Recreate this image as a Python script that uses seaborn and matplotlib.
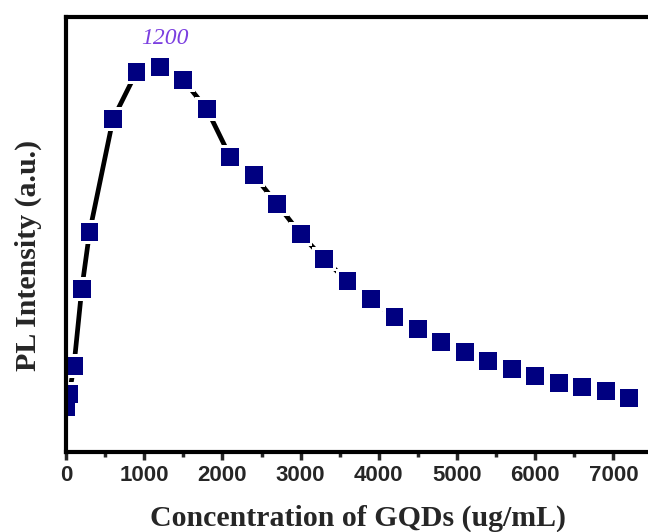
import numpy as np
import pandas as pd
import matplotlib
matplotlib.use("Agg")
import matplotlib.pyplot as plt
from matplotlib.ticker import MultipleLocator
import seaborn as sns

# concentration of GQDs (ug/mL) and PL intensity (arbitrary units)
conc = [0, 40, 100, 200, 300, 600, 900, 1200, 1500, 1800, 2100, 2400, 2700,
        3000, 3300, 3600, 3900, 4200, 4500, 4800, 5100, 5400, 5700, 6000,
        6300, 6600, 6900, 7200]
intensity = [45, 58, 86, 163, 220, 333, 380, 385, 372, 343, 295, 277, 248,
             218, 193, 171, 153, 135, 123, 110, 100, 91, 83, 76, 69, 65, 61, 54]
peak_label = "1200"

df = pd.DataFrame({"conc": conc, "intensity": intensity})

sns.set_style("ticks")
fig = plt.figure(figsize=(6.48, 5.32), dpi=100)
ax = fig.add_axes([0.102, 0.150, 0.917, 0.818])

# black connecting line
sns.lineplot(data=df, x="conc", y="intensity", color="black", lw=3.4,
             sort=False, ax=ax, zorder=2)
# white halo so the line stops short of each square
sns.scatterplot(data=df, x="conc", y="intensity", marker="s", s=285,
                color="white", edgecolor="none", ax=ax, zorder=3)
sns.scatterplot(data=df, x="conc", y="intensity", marker="s", s=165,
                color="#000080", edgecolor="none", ax=ax, zorder=4)

ax.text(1270, 414, peak_label, color="#7B3FE0", fontsize=17, style="italic",
        family="Liberation Serif", ha="center", va="center")

ax.set_xlim(0, 7600)
ax.set_ylim(0, 435)
ax.xaxis.set_major_locator(MultipleLocator(1000))
ax.xaxis.set_minor_locator(MultipleLocator(500))
ax.set_yticks([])
ax.tick_params(axis="x", which="major", direction="out", length=6, width=2.5,
               labelsize=16, pad=3)
ax.tick_params(axis="x", which="minor", direction="out", length=3.5, width=2.5)
for lab in ax.get_xticklabels():
    lab.set_fontweight("bold")
    lab.set_family("Liberation Sans")

for sp in ax.spines.values():
    sp.set_linewidth(3)
    sp.set_color("black")
    sp.set_zorder(5)

ax.set_xlabel("Concentration of GQDs (ug/mL)", fontsize=21.5, fontweight="bold",
              family="Liberation Serif")
ax.set_ylabel("PL Intensity (a.u.)", fontsize=21.5, fontweight="bold",
              family="Liberation Serif")
ax.xaxis.set_label_coords(0.492, -0.152)
ax.yaxis.set_label_coords(-0.064, 0.453)
ax.xaxis.label.set_va("center")
ax.yaxis.label.set_va("center")

fig.savefig("out.png", dpi=100)
